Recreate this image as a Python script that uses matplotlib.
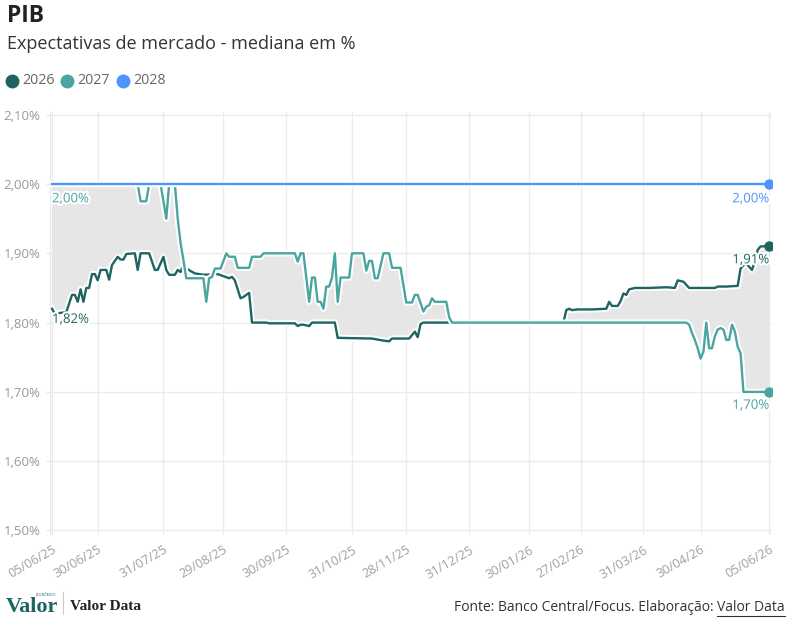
import numpy as np
import matplotlib.pyplot as plt
import matplotlib.patheffects as pe
from matplotlib.lines import Line2D

plt.rcParams['font.family'] = ['Open Sans', 'DejaVu Sans']

# feriados nacionais em dias uteis (eixo x em dias uteis)
holidays = ["2025-06-19", "2025-11-20", "2025-12-25", "2026-01-01", "2026-02-16",
            "2026-02-17", "2026-04-03", "2026-04-21", "2026-05-01", "2026-06-04"]
start = "2025-06-05"

tick_dates = ["2025-06-05", "2025-06-30", "2025-07-31", "2025-08-29", "2025-09-30",
              "2025-10-31", "2025-11-28", "2025-12-31", "2026-01-30", "2026-02-27",
              "2026-03-31", "2026-04-30", "2026-06-05"]
tick_labels = ["05/06/25", "30/06/25", "31/07/25", "29/08/25", "30/09/25", "31/10/25",
               "28/11/25", "31/12/25", "30/01/26", "27/02/26", "31/03/26", "30/04/26",
               "05/06/26"]

dates_2026 = ["2025-06-05", "2025-06-06", "2025-06-12", "2025-06-16", "2025-06-17",
              "2025-06-18", "2025-06-20", "2025-06-23", "2025-06-24", "2025-06-25",
              "2025-06-26", "2025-06-27", "2025-06-30", "2025-07-01", "2025-07-03",
              "2025-07-04", "2025-07-07", "2025-07-09", "2025-07-10", "2025-07-11",
              "2025-07-14", "2025-07-17", "2025-07-18", "2025-07-21", "2025-07-24",
              "2025-07-28", "2025-07-29", "2025-07-31", "2025-08-01", "2025-08-04",
              "2025-08-06", "2025-08-07", "2025-08-08", "2025-08-11", "2025-08-12",
              "2025-08-15", "2025-08-20", "2025-08-27", "2025-08-29", "2025-09-02",
              "2025-09-03", "2025-09-04", "2025-09-08", "2025-09-09", "2025-09-10",
              "2025-09-11", "2025-09-12", "2025-09-19", "2025-09-22", "2025-10-03",
              "2025-10-06", "2025-10-07", "2025-10-08", "2025-10-10", "2025-10-13",
              "2025-10-23", "2025-10-24", "2025-11-11", "2025-11-17", "2025-11-19",
              "2025-11-21", "2025-12-01", "2025-12-03", "2025-12-04", "2025-12-05",
              "2025-12-08", "2026-02-19", "2026-02-20", "2026-02-23", "2026-02-24",
              "2026-02-26", "2026-03-05", "2026-03-12", "2026-03-13", "2026-03-16",
              "2026-03-18", "2026-03-19", "2026-03-20", "2026-03-23", "2026-03-24",
              "2026-03-26", "2026-04-02", "2026-04-13", "2026-04-16", "2026-04-17",
              "2026-04-22", "2026-04-24", "2026-05-08", "2026-05-11", "2026-05-14",
              "2026-05-20", "2026-05-21", "2026-05-22", "2026-05-25", "2026-05-27",
              "2026-05-28", "2026-05-29", "2026-06-01", "2026-06-05"]
pib_2026 = [1.820, 1.813, 1.815, 1.840, 1.840, 1.830, 1.848, 1.830, 1.850, 1.850,
            1.870, 1.870, 1.861, 1.876, 1.876, 1.862, 1.883, 1.895, 1.891, 1.891,
            1.899, 1.900, 1.876, 1.900, 1.900, 1.876, 1.876, 1.895, 1.876, 1.869,
            1.869, 1.876, 1.873, 1.885, 1.878, 1.871, 1.869, 1.870, 1.867, 1.864,
            1.866, 1.861, 1.835, 1.837, 1.840, 1.843, 1.800, 1.800, 1.799, 1.799,
            1.795, 1.797, 1.797, 1.795, 1.800, 1.800, 1.778, 1.777, 1.774, 1.773,
            1.777, 1.777, 1.787, 1.779, 1.798, 1.800, 1.800, 1.818, 1.820, 1.818,
            1.819, 1.819, 1.820, 1.830, 1.824, 1.824, 1.831, 1.842, 1.840, 1.848,
            1.850, 1.850, 1.851, 1.850, 1.861, 1.859, 1.850, 1.850, 1.852, 1.852,
            1.853, 1.878, 1.883, 1.885, 1.876, 1.888, 1.905, 1.910, 1.910]

dates_2027 = ["2025-06-05", "2025-07-18", "2025-07-21", "2025-07-23", "2025-07-24",
              "2025-07-30", "2025-08-01", "2025-08-04", "2025-08-06", "2025-08-07",
              "2025-08-08", "2025-08-11", "2025-08-12", "2025-08-20", "2025-08-21",
              "2025-08-22", "2025-08-25", "2025-08-26", "2025-08-28", "2025-09-01",
              "2025-09-02", "2025-09-04", "2025-09-05", "2025-09-11", "2025-09-12",
              "2025-09-17", "2025-09-18", "2025-10-03", "2025-10-06", "2025-10-07",
              "2025-10-08", "2025-10-10", "2025-10-13", "2025-10-14", "2025-10-15",
              "2025-10-16", "2025-10-17", "2025-10-20", "2025-10-21", "2025-10-22",
              "2025-10-23", "2025-10-24", "2025-10-27", "2025-10-30", "2025-10-31",
              "2025-11-06", "2025-11-07", "2025-11-10", "2025-11-11", "2025-11-12",
              "2025-11-13", "2025-11-17", "2025-11-19", "2025-11-21", "2025-11-26",
              "2025-11-28", "2025-12-02", "2025-12-03", "2025-12-04", "2025-12-08",
              "2025-12-09", "2025-12-10", "2025-12-11", "2025-12-12", "2025-12-18",
              "2025-12-19", "2025-12-22", "2026-04-23", "2026-04-24", "2026-04-27",
              "2026-04-28", "2026-04-29", "2026-04-30", "2026-05-04", "2026-05-05",
              "2026-05-06", "2026-05-07", "2026-05-08", "2026-05-11", "2026-05-12",
              "2026-05-13", "2026-05-14", "2026-05-15", "2026-05-18", "2026-05-19",
              "2026-05-20", "2026-05-21", "2026-05-22", "2026-06-05"]
pib_2027 = [2.000, 2.000, 1.975, 1.975, 2.000, 2.000, 1.950, 2.000, 2.000, 1.950,
            1.915, 1.890, 1.864, 1.864, 1.830, 1.864, 1.866, 1.878, 1.878, 1.900,
            1.895, 1.895, 1.879, 1.879, 1.895, 1.895, 1.900, 1.900, 1.888, 1.900,
            1.900, 1.830, 1.865, 1.865, 1.830, 1.830, 1.820, 1.852, 1.852, 1.865,
            1.900, 1.830, 1.865, 1.865, 1.900, 1.900, 1.875, 1.889, 1.889, 1.864,
            1.864, 1.900, 1.900, 1.879, 1.879, 1.829, 1.829, 1.840, 1.840, 1.816,
            1.823, 1.825, 1.835, 1.830, 1.830, 1.808, 1.800, 1.800, 1.797, 1.785,
            1.775, 1.763, 1.748, 1.758, 1.800, 1.763, 1.763, 1.780, 1.790, 1.792,
            1.790, 1.775, 1.775, 1.797, 1.787, 1.765, 1.756, 1.700, 1.700]

dates_2028 = ["2025-06-05", "2026-06-05"]
pib_2028 = [2.000, 2.000]

c26, c27, c28 = "#1d6562", "#4aa5a0", "#4d94fb"


def bday(d):
    return np.busday_count(start, np.array(d, dtype="datetime64[D]"), holidays=holidays)


x26, x27, x28 = bday(dates_2026), bday(dates_2027), bday(dates_2028)
xt = bday(tick_dates)

fig = plt.figure(figsize=(7.97, 6.30), dpi=100)
W, H = 797, 630
ax = fig.add_axes([50 / W, (H - 535) / H, 722 / W, 423 / H])

ax.set_xlim(-0.7, 252.0)
ax.set_ylim(1.4935, 2.1039)

# faixa entre 2026 e 2027
grid = np.arange(0, x26[-1] + 1)
ax.fill_between(grid, np.interp(grid, x26, pib_2026), np.interp(grid, x27, pib_2027),
                color="#e6e6e6", lw=0, zorder=1)

halo = [pe.Stroke(linewidth=4.5, foreground="white"), pe.Normal()]
ax.plot(x26, pib_2026, color=c26, lw=1.7, zorder=3, path_effects=halo, solid_joinstyle="round")
ax.plot(x27, pib_2027, color=c27, lw=1.7, zorder=4, path_effects=halo, solid_joinstyle="round")
ax.plot(x28, pib_2028, color=c28, lw=1.7, zorder=5, path_effects=halo)

for xs, ys, c in [(x26, pib_2026, c26), (x27, pib_2027, c27), (x28, pib_2028, c28)]:
    ax.plot(xs[-1], ys[-1], "o", ms=6.5, color=c, zorder=6)

lab_halo = [pe.withStroke(linewidth=3, foreground="white")]


def fmt(v):
    return f"{v:.2f}%".replace(".", ",")


ax.annotate(fmt(pib_2027[0]), (x27[0], pib_2027[0]), xytext=(0, -6), textcoords="offset points",
            ha="left", va="top", color=c27, fontsize=9.5, path_effects=lab_halo, zorder=7)
ax.annotate(fmt(pib_2026[0]), (x26[0], pib_2026[0]), xytext=(0, -3), textcoords="offset points",
            ha="left", va="top", color=c26, fontsize=9.5, path_effects=lab_halo, zorder=7)
ax.annotate(fmt(pib_2028[-1]), (x28[-1], pib_2028[-1]), xytext=(0, -6), textcoords="offset points",
            ha="right", va="top", color=c28, fontsize=9.5, path_effects=lab_halo, zorder=7)
ax.annotate(fmt(pib_2026[-1]), (x26[-1], pib_2026[-1]), xytext=(0, -5), textcoords="offset points",
            ha="right", va="top", color=c26, fontsize=9.5, path_effects=lab_halo, zorder=7)
ax.annotate(fmt(pib_2027[-1]), (x27[-1], pib_2027[-1]), xytext=(0, -5), textcoords="offset points",
            ha="right", va="top", color=c27, fontsize=9.5, path_effects=lab_halo, zorder=7)

yt = [1.5, 1.6, 1.7, 1.8, 1.9, 2.0, 2.1]
ax.set_yticks(yt)
ax.set_yticklabels([fmt(v) for v in yt])
ax.set_xticks(xt)
ax.set_xticklabels(tick_labels, rotation=30, ha="right", rotation_mode="anchor")
ax.tick_params(axis="y", length=3, color="#e8e8e8", labelcolor="#999999", labelsize=9.5, pad=4)
ax.tick_params(axis="x", length=0, labelcolor="#a0a0a0", labelsize=9.2, pad=6)
ax.grid(True, color="#ebebeb", lw=1)
ax.set_axisbelow(True)
for s in ["top", "right", "bottom"]:
    ax.spines[s].set_visible(False)
ax.spines["left"].set_color("#e8e8e8")

# titulo e legenda
fig.text(7 / W, 1 - 4 / H, "PIB", fontsize=16.5, fontweight="bold", color="#222222", va="top")
fig.text(7 / W, 1 - 35 / H, "Expectativas de mercado - mediana em %", fontsize=13,
         color="#333333", va="top")
for lx, name, c in [(12, "2026", c26), (67, "2027", c27), (123, "2028", c28)]:
    fig.add_artist(Line2D([lx / W], [1 - 81 / H], marker="o", ms=9, color=c, lw=0))
    fig.text((lx + 10) / W, 1 - 81 / H, name, fontsize=10.3, color="#666666", va="center")

# rodape
fig.text(6 / W, 1 - 612 / H, "Valor", fontsize=16, family="Liberation Serif",
         fontweight="bold", color="#1d6562", va="baseline")
fig.text(36 / W, 1 - 596 / H, "ECONÔMICO", fontsize=2.3, color="#1d6562", va="baseline")
fig.add_artist(Line2D([63 / W, 63 / W], [1 - 592 / H, 1 - 614 / H], color="#cccccc", lw=0.8))
fig.text(70 / W, 1 - 610 / H, "Valor Data", fontsize=11, family="Liberation Serif",
         fontweight="bold", color="#222222", va="baseline")

fig.canvas.draw()
r = fig.canvas.get_renderer()
t1 = fig.text(785 / W, 1 - 611 / H, "Valor Data", fontsize=10, color="#333333",
              ha="right", va="baseline")
bb = t1.get_window_extent(r).transformed(fig.transFigure.inverted())
fig.text(bb.x0, 1 - 611 / H, "Fonte: Banco Central/Focus. Elaboração: ", fontsize=10,
         color="#333333", ha="right", va="baseline")
fig.add_artist(Line2D([bb.x0, bb.x1], [bb.y0 - 1 / H, bb.y0 - 1 / H], color="#333333", lw=0.8))

fig.savefig("out.png", dpi=100)
